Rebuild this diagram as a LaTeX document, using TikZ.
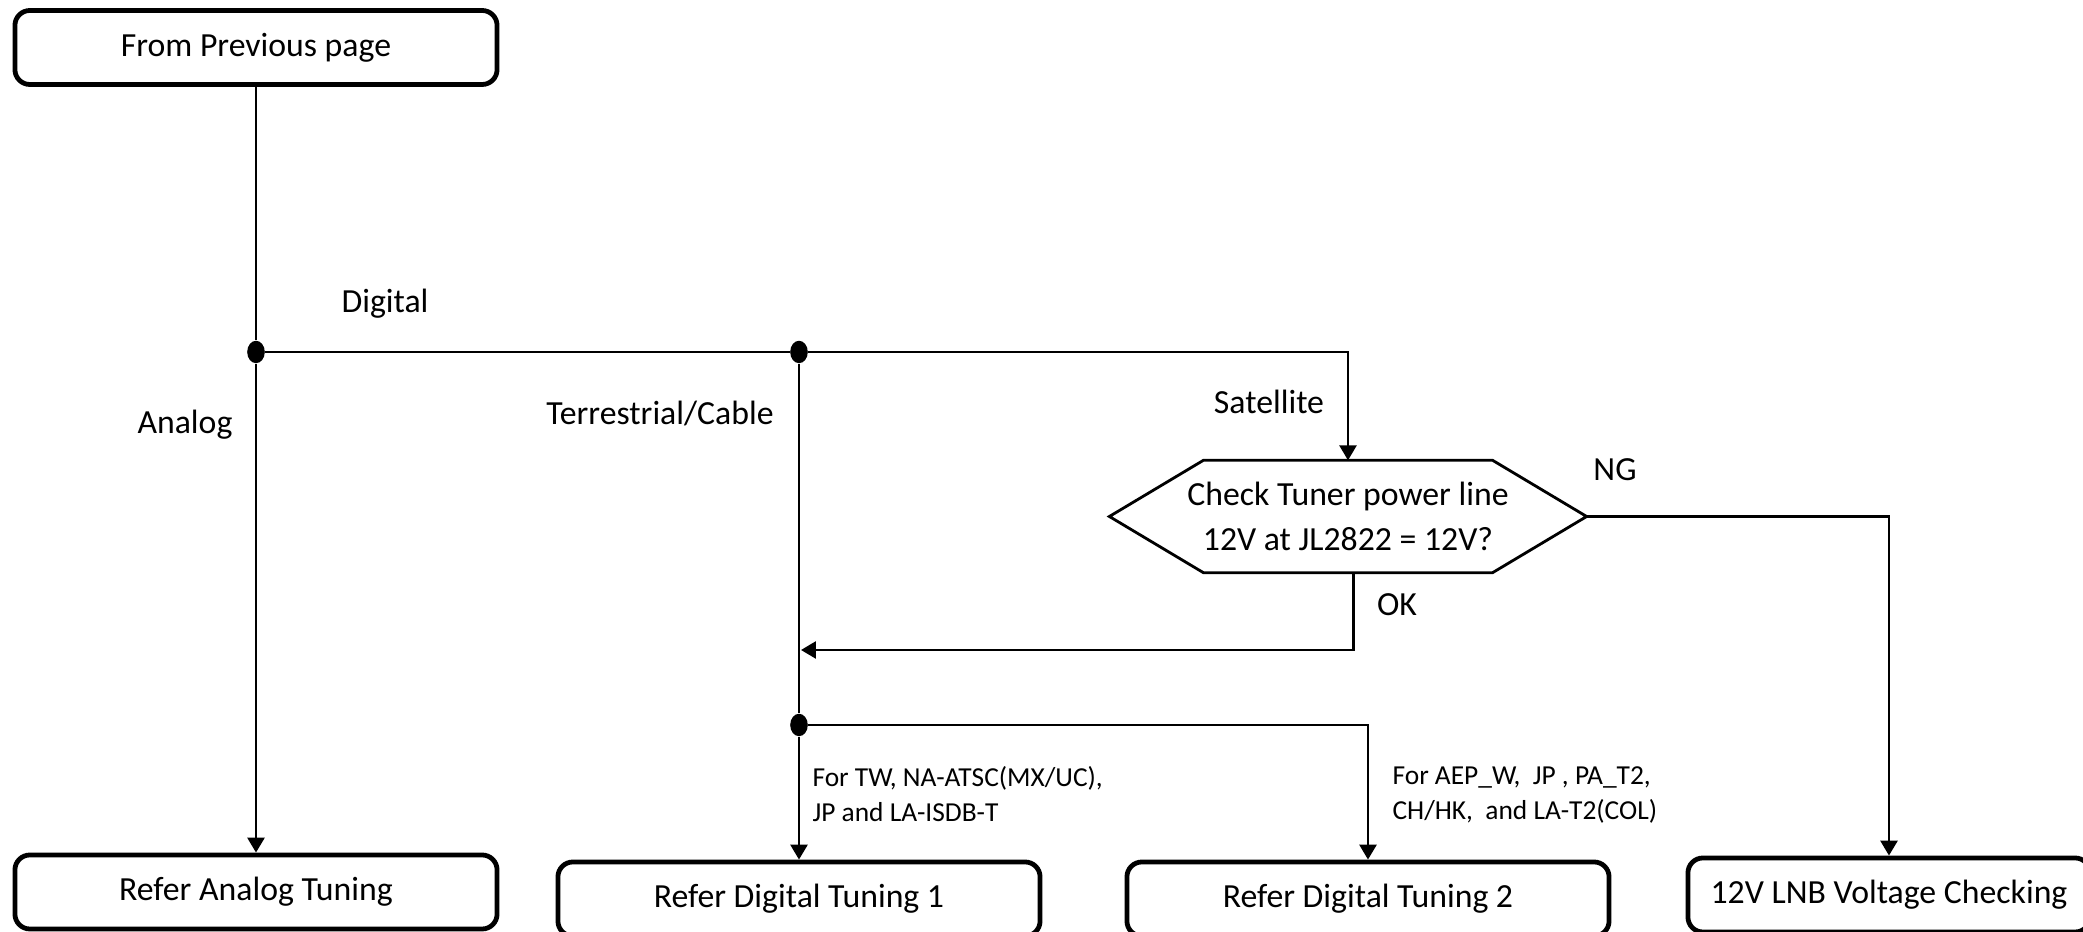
\documentclass[tikz,border=0pt]{standalone}
\usepackage{fontspec}
\setmainfont{Carlito}
\usetikzlibrary{arrows.meta,positioning,shapes.geometric,calc}

\begin{document}
\begin{tikzpicture}[x=0.0125cm,y=-0.0125cm,
  stepbox/.style={draw,line width=1.7pt,rounded corners=5.3pt,
    minimum width=6.025cm,minimum height=0.925cm,inner sep=0pt,
    font=\fontsize{12}{14.4}\selectfont},
  flow/.style={line width=1pt,-{Triangle[length=5.3pt,width=6pt]}},
  wire/.style={line width=1pt},
  junc/.style={ellipse,fill,inner sep=0pt,minimum width=0.22cm,
    minimum height=0.28cm},
  lbl/.style={inner sep=0pt,font=\fontsize{12}{14.4}\selectfont},
  note/.style={inner sep=0pt,align=left,anchor=north west,
    font=\fontsize{9.75}{12.4}\selectfont}]
\useasboundingbox (0,0) rectangle (2083,932);
\node[stepbox](prev) at(256,47.5){From Previous page};
\node[stepbox](analog) at(256,892){Refer Analog Tuning};
\node[stepbox](dig1) at(799,899){Refer Digital Tuning 1};
\node[stepbox](dig2) at(1368,899){Refer Digital Tuning 2};
\node[stepbox,minimum width=5.025cm](lnb) at(1889,895){12V LNB Voltage Checking};
\node[junc](j1) at(256,352){};
\node[junc](j2) at(799,352){};
\node[junc](j3) at(799,725){};
\node[minimum width=5.95cm,minimum height=1.39cm,inner sep=0pt,align=center,
      font=\fontsize{12}{15.8}\selectfont](chk)
  at(1348,516.5){Check Tuner power line\\12V at JL2822 = 12V?};
\draw[line width=1pt](chk.west)--([xshift=1.175cm]chk.north west)
  --([xshift=-1.175cm]chk.north east)--(chk.east)
  --([xshift=-1.175cm]chk.south east)--([xshift=1.175cm]chk.south west)--cycle;
\coordinate(okin) at(801,650);
\draw[wire](prev)--(j1);
\draw[flow](j1)--(analog);
\draw[wire](j1)--(j2);
\draw[flow](j2)-|(chk.north);
\draw[wire](j2)--(j3);
\draw[flow](j3)--(dig1);
\draw[flow](j3)-|(dig2);
\draw[flow]([xshift=0.07cm]chk.south)|-(okin);
\draw[flow](chk.east)-|(lnb);
\node[lbl](digital) at(385,304){Digital};
\node[lbl](analoglbl) at(185,425){Analog};
\node[lbl](terr) at(660,414){Terrestrial/Cable};
\node[lbl](sat) at(1269,402){Satellite};
\node[lbl](ng) at(1615,470){NG};
\node[lbl](ok) at(1397,605){OK};
\node[note](n1) at(812,766){For TW, NA-ATSC(MX/UC),\\JP and LA-ISDB-T};
\node[note](n2) at(1392,766){For AEP\_W,\ \ JP , PA\_T2,\\CH/HK,\ \ and LA-T2(COL)};
\end{tikzpicture}
\end{document}
